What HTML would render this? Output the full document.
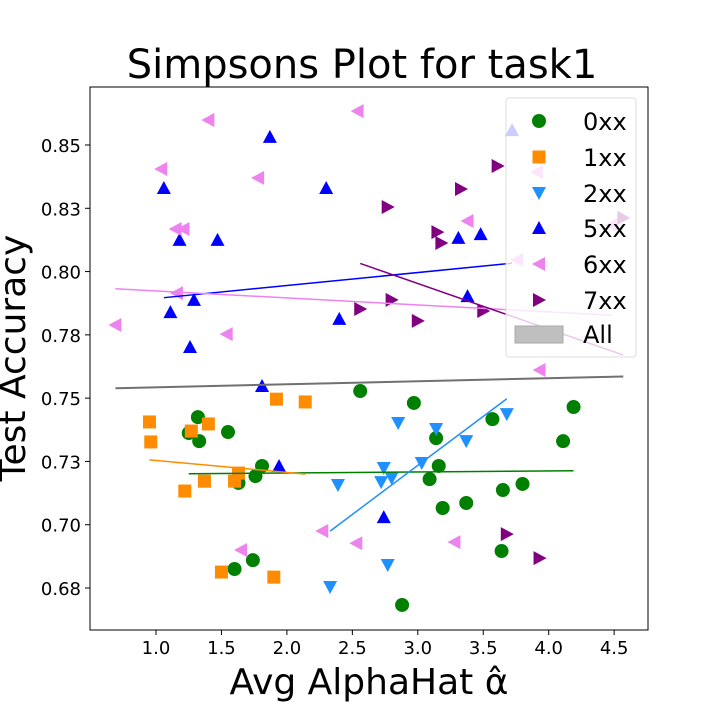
<!DOCTYPE html>
<html><head><meta charset="utf-8"><style>
html,body{margin:0;padding:0;background:#fff;}
svg text{font-family:"DejaVu Sans","Liberation Sans",sans-serif;}
</style></head><body>
<svg id="chart" width="720" height="720" xmlns="http://www.w3.org/2000/svg"></svg>
<script>
const xTicks=[1.0,1.5,2.0,2.5,3.0,3.5,4.0,4.5];
const yTicks=[0.675,0.7,0.725,0.75,0.775,0.8,0.825,0.85];
const yTickLabels=["0.68","0.70","0.73","0.75","0.78","0.80","0.83","0.85"];
const g0x=[1.32,1.25,1.33,1.55,1.81,1.76,1.63,1.74,1.60,2.56,2.97,3.14,3.16,3.09,3.19,3.37,3.57,4.19,4.11,3.65,3.80,3.64,2.88];
const g0y=[0.7425,0.7362,0.7330,0.7366,0.7232,0.7192,0.7165,0.6860,0.6825,0.7528,0.7481,0.7342,0.7232,0.7180,0.7066,0.7086,0.7417,0.7465,0.7330,0.7137,0.7161,0.6896,0.6683];
const g1x=[0.95,0.96,1.27,1.40,1.92,2.14,1.63,1.60,1.37,1.22,1.50,1.90];
const g1y=[0.7406,0.7327,0.7370,0.7398,0.7496,0.7485,0.7204,0.7172,0.7172,0.7133,0.6813,0.6793];
const g2x=[2.85,3.14,3.37,3.68,3.03,2.74,2.72,2.80,2.39,2.77,2.33];
const g2y=[0.7402,0.7378,0.7330,0.7437,0.7244,0.7224,0.7168,0.7184,0.7157,0.6841,0.6754];
const g5x=[1.87,1.06,2.30,1.18,1.47,1.11,1.29,1.26,1.81,2.40,1.94,2.74,3.31,3.48,3.38,3.72];
const g5y=[0.8532,0.8330,0.8330,0.8125,0.8125,0.7840,0.7888,0.7702,0.7548,0.7813,0.7232,0.7030,0.8133,0.8148,0.7903,0.8559];
const g6x=[1.40,2.54,1.04,1.78,1.15,1.21,1.16,0.69,1.54,3.38,3.91,3.76,3.93,2.27,2.53,3.28,1.65,4.48];
const g6y=[0.8599,0.8634,0.8405,0.8370,0.8168,0.8168,0.7915,0.7789,0.7753,0.8200,0.8393,0.8046,0.7611,0.6975,0.6927,0.6931,0.6900,0.8184];
const g7x=[3.61,3.33,2.77,3.15,3.18,2.80,3.50,3.00,2.56,4.57,3.68,3.93];
const g7y=[0.8417,0.8326,0.8255,0.8156,0.8113,0.7888,0.7844,0.7805,0.7852,0.8212,0.6963,0.6868];

const NS="http://www.w3.org/2000/svg";
const svg=document.getElementById('chart');
const L=90,R=648,T=87,B=630;
function xs(v){return 156+(v-1)*130.9;}
function ys(v){return 145+(0.85-v)*2531.4;}
function mk(tag,attrs,parent){const e=document.createElementNS(NS,tag);for(const k in attrs)e.setAttribute(k,attrs[k]);(parent||svg).appendChild(e);return e;}

const title=mk('text',{x:362,y:78,'font-size':40,'text-anchor':'middle',fill:'#000'});title.textContent='Simpsons Plot for task1';


const xl=mk('text',{x:369,y:694,'font-size':36,'text-anchor':'middle',fill:'#000'});xl.textContent='Avg AlphaHat α̂';


const yl=mk('text',{x:0,y:0,'font-size':36,'text-anchor':'middle',fill:'#000',transform:'translate(25,358) rotate(-90)'});yl.textContent='Test Accuracy';



const axes=mk('g',{});


mk('rect',{x:L,y:T,width:R-L,height:B-T,fill:'none',stroke:'#000','stroke-width':1},axes);
xTicks.forEach(v=>{const x=xs(v);mk('line',{x1:x,x2:x,y1:B,y2:B+5,stroke:'#000'},axes);
 const t=mk('text',{x:x,y:B+24,'font-size':18,'text-anchor':'middle'},axes);t.textContent=v.toFixed(1);
 
 });
yTicks.forEach((v,i)=>{const y=ys(v);mk('line',{x1:L-5,x2:L,y1:y,y2:y,stroke:'#000'},axes);
 const t=mk('text',{x:L-9,y:y+7,'font-size':18,'text-anchor':'end'},axes);t.textContent=yTickLabels[i];
 
 });

function marker(type,x,y,color,parent){
 const s=7;
 if(type==='o')return mk('circle',{cx:x,cy:y,r:7,fill:color},parent);
 if(type==='s')return mk('rect',{x:x-6.5,y:y-6.5,width:13,height:13,fill:color},parent);
 let p;
 if(type==='v')p=[[x-s,y-6],[x+s,y-6],[x,y+7]];
 if(type==='^')p=[[x-s,y+6],[x+s,y+6],[x,y-7]];
 if(type==='<')p=[[x+6,y-s],[x+6,y+s],[x-7,y]];
 if(type==='>')p=[[x-6,y-s],[x-6,y+s],[x+7,y]];
 return mk('polygon',{points:p.map(q=>q.join(',')).join(' '),fill:color},parent);
}
function fit(xa,ya){const n=xa.length;let mx=0,my=0;for(let i=0;i<n;i++){mx+=xa[i];my+=ya[i];}mx/=n;my/=n;
 let sxy=0,sxx=0;for(let i=0;i<n;i++){sxy+=(xa[i]-mx)*(ya[i]-my);sxx+=(xa[i]-mx)**2;}const b=sxy/sxx;return [b,my-b*mx];}
function regLine(xa,ya,color,w,name){const [b,a]=fit(xa,ya);const x0=Math.min(...xa),x1=Math.max(...xa);
 const l=mk('line',{x1:xs(x0),y1:ys(a+b*x0),x2:xs(x1),y2:ys(a+b*x1),stroke:color,'stroke-width':w});
 
 }

const groups=[
 {n:'0xx',x:g0x,y:g0y,c:'#008000',m:'o'},
 {n:'1xx',x:g1x,y:g1y,c:'#ff8c00',m:'s'},
 {n:'2xx',x:g2x,y:g2y,c:'#1e90ff',m:'v'},
 {n:'5xx',x:g5x,y:g5y,c:'#0000ff',m:'^'},
 {n:'6xx',x:g6x,y:g6y,c:'#ee82ee',m:'<'},
 {n:'7xx',x:g7x,y:g7y,c:'#800080',m:'>'}];
groups.forEach(g=>{const grp=mk('g',{});
 
 
 g.x.forEach((v,i)=>{const e=marker(g.m,xs(v),ys(g.y[i]),g.c,grp);
  
  });});
groups.forEach(g=>regLine(g.x,g.y,g.c,1.5,'trend-'+g.n));
const allX=[].concat(...groups.map(g=>g.x)),allY=[].concat(...groups.map(g=>g.y));
regLine(allX,allY,'#707070',2,'trend-all');

const lg=mk('g',{});


mk('rect',{x:506,y:98,width:130,height:259,rx:3,fill:'rgba(255,255,255,0.8)',stroke:'#ddd'},lg);
const rows=[121,157,193,228,264,300];
groups.forEach((g,i)=>{const e=marker(g.m,539,rows[i],g.c,lg);
 
 
 const t=mk('text',{x:583,y:rows[i]+9,'font-size':24},lg);t.textContent=g.n;
 
 });
mk('rect',{x:515,y:326,width:48,height:17,fill:'#bfbfbf',stroke:'#aaa'},lg);
const ta=mk('text',{x:583,y:343,'font-size':24},lg);ta.textContent='All';


</script>
</body></html>
